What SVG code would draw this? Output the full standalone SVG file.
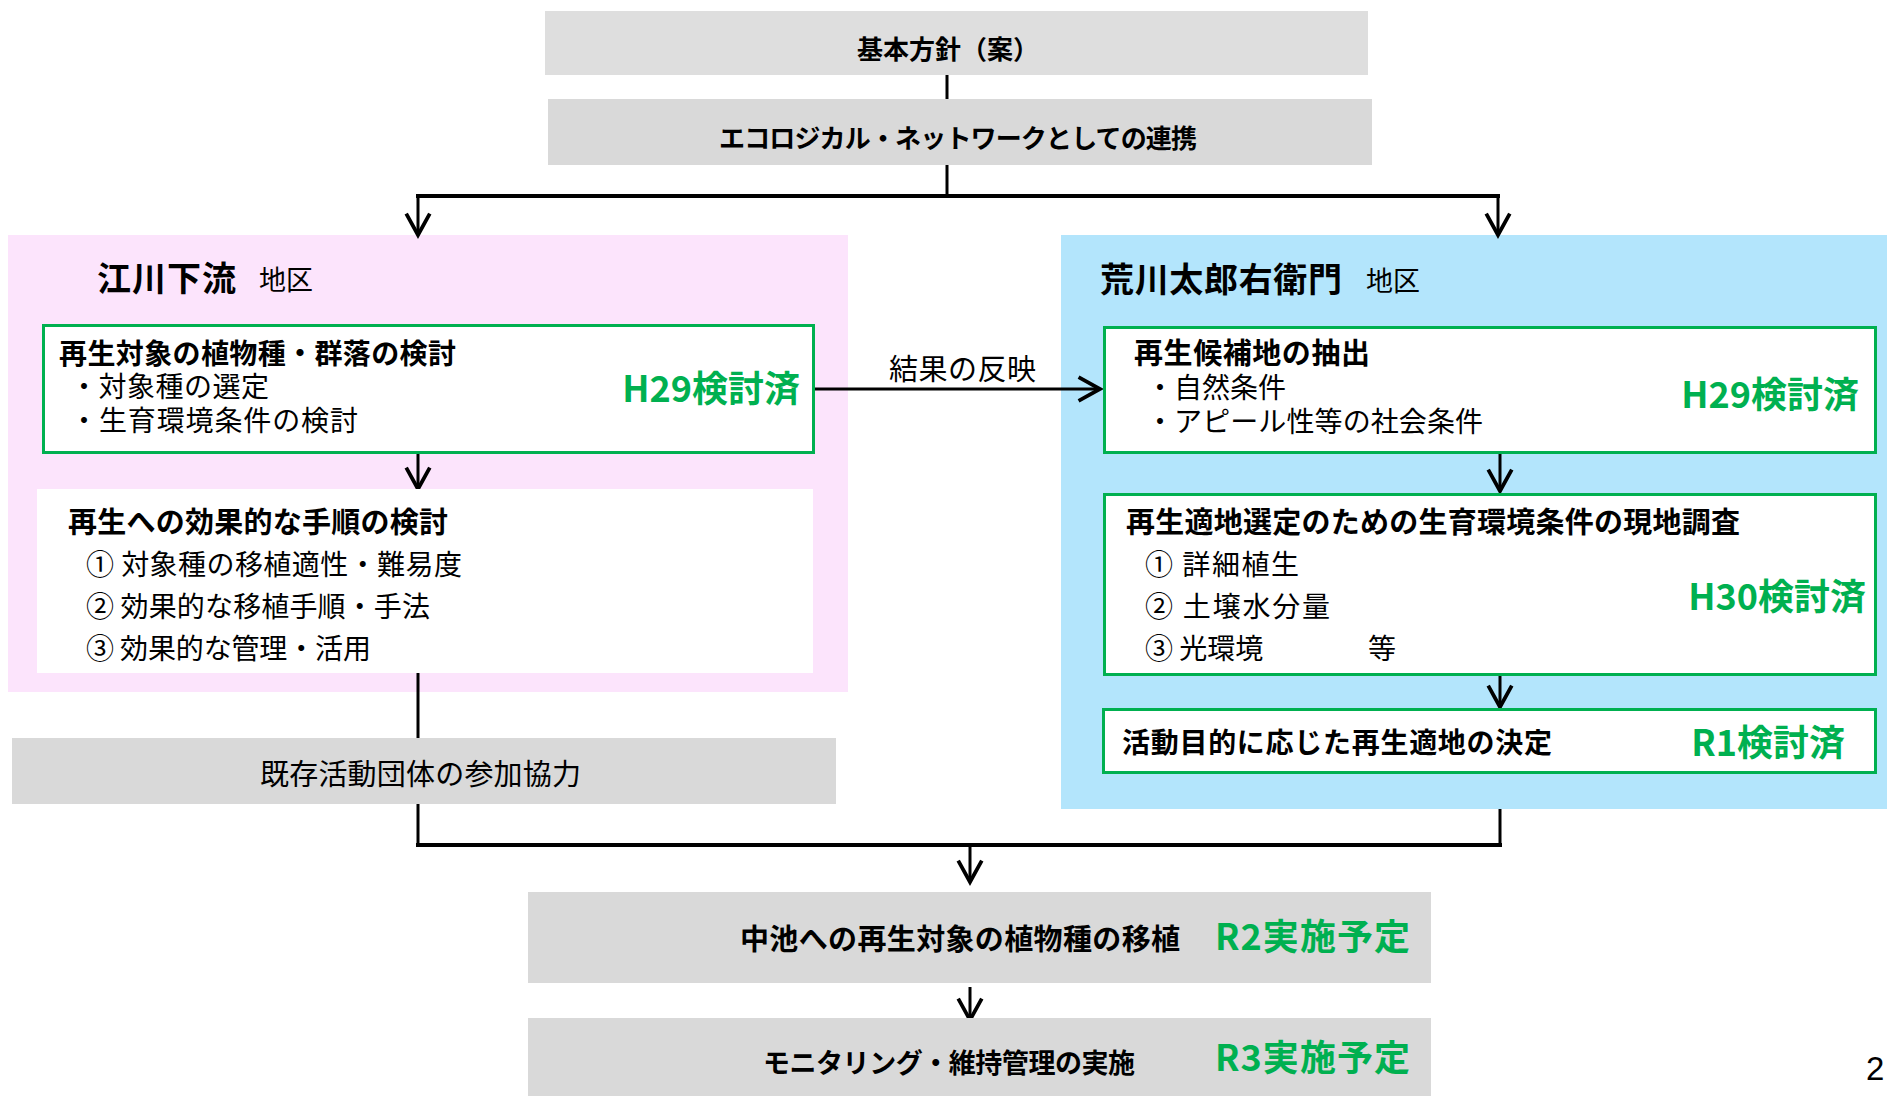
<svg xmlns="http://www.w3.org/2000/svg" width="1887" height="1096" viewBox="0 0 1887 1096">
<defs>
<style>
text{font-family:"Noto Sans CJK JP","Noto Sans",sans-serif;fill:#000}
.b{font-weight:bold}
.t26{font-size:26px}
.t27{font-size:27px}
.t28{font-size:28px}
.t29{font-size:29px}
.t34{font-size:34px}
.g{fill:#00b050;font-weight:bold;font-size:36px}
.gray{fill:#d9d9d9}
.gbox{fill:#fff;stroke:#00b050;stroke-width:3}
.ln{stroke:#000;stroke-width:3;fill:none}
.thick{stroke:#000;stroke-width:4;fill:none}
.arr{stroke:#000;stroke-width:3;fill:none;marker-end:url(#ah)}
</style>
<marker id="ah" markerUnits="userSpaceOnUse" markerWidth="30" markerHeight="30" viewBox="-24 -14 28 28" refX="0" refY="0" orient="auto">
<path d="M -20 -11 L 0 0 L -20 11" fill="none" stroke="#000" stroke-width="3.5"/>
</marker>
</defs>
<rect width="1887" height="1096" fill="#fff"/>

<g id="area-left">
<rect x="8" y="235" width="840" height="457" fill="#fce4fc"/>
<text class="b t34" x="97" y="291" textLength="139">江川下流</text>
<text class="t27" x="259" y="290">地区</text>
</g>
<g id="area-right">
<rect x="1061" y="235" width="826" height="574" fill="#b3e5fc"/>
<text class="b t34" x="1100" y="292" textLength="242">荒川太郎右衛門</text>
<text class="t27" x="1366" y="291">地区</text>
</g>

<g id="connectors">
<line class="ln" x1="947" y1="75" x2="947" y2="99"/>
<line class="ln" x1="947" y1="165" x2="947" y2="196"/>
<line class="thick" x1="416" y1="196" x2="1500" y2="196"/>
<line class="arr" x1="418" y1="196" x2="418" y2="235"/>
<line class="arr" x1="1498" y1="196" x2="1498" y2="235"/>
<line class="arr" x1="418" y1="453" x2="418" y2="489"/>
<line class="ln" x1="418" y1="673" x2="418" y2="847"/>
<line class="ln" x1="1500" y1="809" x2="1500" y2="847"/>
<line class="thick" x1="416" y1="845" x2="1502" y2="845"/>
<line class="arr" x1="970" y1="845" x2="970" y2="882"/>
<line class="arr" x1="970" y1="987" x2="970" y2="1020"/>
<line class="arr" x1="1500" y1="453" x2="1500" y2="491"/>
<line class="arr" x1="1500" y1="675" x2="1500" y2="707"/>
<line class="arr" x1="814" y1="389" x2="1100" y2="389"/>
<text class="t29" x="889" y="380" textLength="147">結果の反映</text>
</g>

<g id="kihon">
<rect x="545" y="11" width="823" height="64" fill="#dedede"/>
<text class="b t26" x="948" y="59" text-anchor="middle">基本方針（案）</text>
</g>
<g id="eco">
<rect x="548" y="99" width="824" height="66" class="gray"/>
<text class="b t26" x="719" y="148" textLength="478">エコロジカル・ネットワークとしての連携</text>
</g>

<g id="l1">
<rect class="gbox" x="43.5" y="325.5" width="770" height="127"/>
<text class="b t28" x="59" y="364" textLength="397">再生対象の植物種・群落の検討</text>
<text class="t28" x="70" y="397" textLength="199">・対象種の選定</text>
<text class="t28" x="70" y="431" textLength="288">・生育環境条件の検討</text>
<text class="g" x="800" y="402" text-anchor="end">H29検討済</text>
</g>
<g id="l2">
<rect x="37" y="489" width="776" height="184" fill="#fff"/>
<text class="b t29" x="68" y="533" textLength="380">再生への効果的な手順の検討</text>
<text class="t28" x="86" y="575" textLength="376">① 対象種の移植適性・難易度</text>
<text class="t28" x="86" y="617" textLength="344">② 効果的な移植手順・手法</text>
<text class="t28" x="86" y="659" textLength="285">③ 効果的な管理・活用</text>
</g>
<g id="kizon">
<rect x="12" y="738" width="824" height="66" class="gray"/>
<text class="t29" x="260" y="785" textLength="321">既存活動団体の参加協力</text>
</g>

<g id="r1">
<rect class="gbox" x="1104.5" y="327.5" width="771" height="125"/>
<text class="b t29" x="1134" y="364" textLength="236">再生候補地の抽出</text>
<text class="t28" x="1146" y="398" textLength="140">・自然条件</text>
<text class="t28" x="1146" y="432" textLength="337">・アピール性等の社会条件</text>
<text class="g" x="1859" y="408" text-anchor="end">H29検討済</text>
</g>
<g id="r2">
<rect class="gbox" x="1104.5" y="494.5" width="771" height="180"/>
<text class="b t29" x="1126" y="533" textLength="614">再生適地選定のための生育環境条件の現地調査</text>
<text class="t28" x="1145" y="575" textLength="154">① 詳細植生</text>
<text class="t28" x="1145" y="617" textLength="185">② 土壌水分量</text>
<text class="t28" x="1145" y="659">③ 光環境<tspan x="1368">等</tspan></text>
<text class="g" x="1866" y="610" text-anchor="end">H30検討済</text>
</g>
<g id="r3">
<rect class="gbox" x="1103.5" y="709.5" width="772" height="63"/>
<text class="b t28" x="1122" y="753" textLength="430">活動目的に応じた再生適地の決定</text>
<text class="g" x="1845" y="756" text-anchor="end">R1検討済</text>
</g>

<g id="nakaike">
<rect x="528" y="892" width="903" height="91" class="gray"/>
<text class="b t29" x="740" y="950" textLength="440">中池への再生対象の植物種の移植</text>
<text class="g" x="1215" y="950" textLength="195">R2実施予定</text>
</g>
<g id="monitoring">
<rect x="528" y="1018" width="903" height="78" class="gray"/>
<text class="b t27" x="763" y="1073" textLength="372">モニタリング・維持管理の実施</text>
<text class="g" x="1215" y="1071" textLength="195">R3実施予定</text>
</g>
<text x="1866" y="1080" style="font-family:'Liberation Sans',Arial,sans-serif;font-size:33px">2</text>
</svg>
